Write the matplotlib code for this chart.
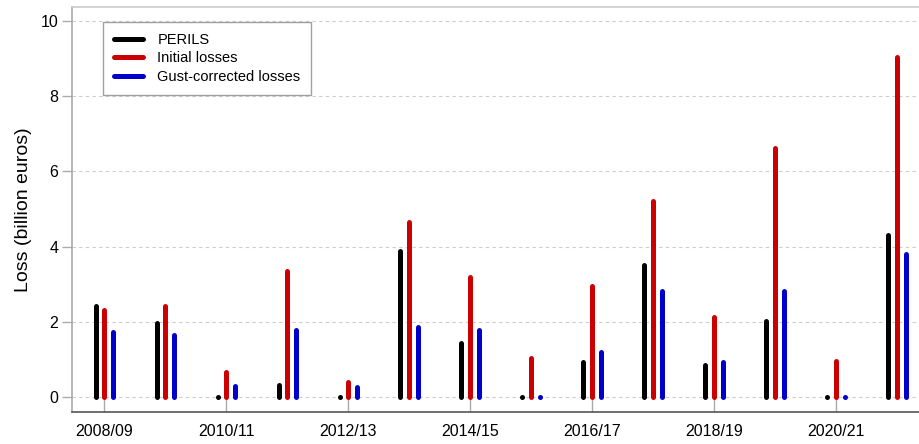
import numpy as np
import matplotlib
matplotlib.use("Agg")
import matplotlib.pyplot as plt

plt.rcParams['font.family'] = ['Liberation Sans', 'DejaVu Sans']

seasons = ["2008/09", "2009/10", "2010/11", "2011/12", "2012/13", "2013/14", "2014/15",
           "2015/16", "2016/17", "2017/18", "2018/19", "2019/20", "2020/21", "2021/22"]
perils = [2.43, 1.97, 0.0, 0.33, 0.0, 3.87, 1.44, 0.0, 0.92, 3.50, 0.85, 2.03, 0.0, 4.31]
initial = [2.30, 2.43, 0.66, 3.36, 0.39, 4.65, 3.20, 1.04, 2.96, 5.22, 2.12, 6.62, 0.95, 9.05]
gust = [1.74, 1.66, 0.30, 1.78, 0.26, 1.85, 1.77, 0.0, 1.19, 2.83, 0.94, 2.83, 0.0, 3.79]

series = [("PERILS", perils, "#000000", -0.14),
          ("Initial losses", initial, "#CC0000", 0.0),
          ("Gust-corrected losses", gust, "#0000CC", 0.14)]

fig = plt.figure(figsize=(9.2, 4.44), dpi=100)
ax = fig.add_axes([0.0783, 0.0721, 0.9217, 0.912])

x = np.arange(len(seasons))
lw = 3.6
for label, vals, color, off in series:
    for i, v in enumerate(vals):
        if v == 0:
            # zero-length bar still shows its round cap as a dot
            ax.plot([x[i] + off], [0], 'o', color=color, ms=lw, mew=0)
        else:
            ax.plot([x[i] + off, x[i] + off], [0, v], color=color, lw=lw,
                    solid_capstyle='round', label=label if i == 0 else None)

ax.set_xlim(-0.525, 13.377)
ax.set_ylim(-0.4, 10.37)
ax.set_yticks([0, 2, 4, 6, 8, 10])
ax.set_xticks(x[::2])
ax.set_xticklabels(seasons[::2])
ax.yaxis.grid(True, ls=(0, (3, 3)), color="#cccccc", lw=0.8)
ax.set_axisbelow(True)

ax.tick_params(axis='x', direction='in', length=10.8, color="#aaaaaa", width=1,
               labelsize=11.5, pad=9)
ax.tick_params(axis='y', direction='out', length=7, color="#aaaaaa", width=1,
               labelsize=11.5, pad=3)
ax.spines['left'].set_color("#aaaaaa")
ax.spines['top'].set_color("#cccccc")
ax.spines['bottom'].set_color("#555555")
ax.spines['right'].set_visible(False)
for s in ax.spines.values():
    s.set_linewidth(1.2)

ax.set_ylabel("Loss (billion euros)", fontsize=14, labelpad=6)

leg = ax.legend(loc='upper left', bbox_to_anchor=(0.036, 0.963), fontsize=10.5,
                frameon=True, fancybox=False, handlelength=2.0, handletextpad=1.0,
                borderpad=0.75, labelspacing=0.3, borderaxespad=0)
leg.get_frame().set_edgecolor("#888888")
leg.get_frame().set_linewidth(1.0)

fig.savefig("out.png", dpi=100)
